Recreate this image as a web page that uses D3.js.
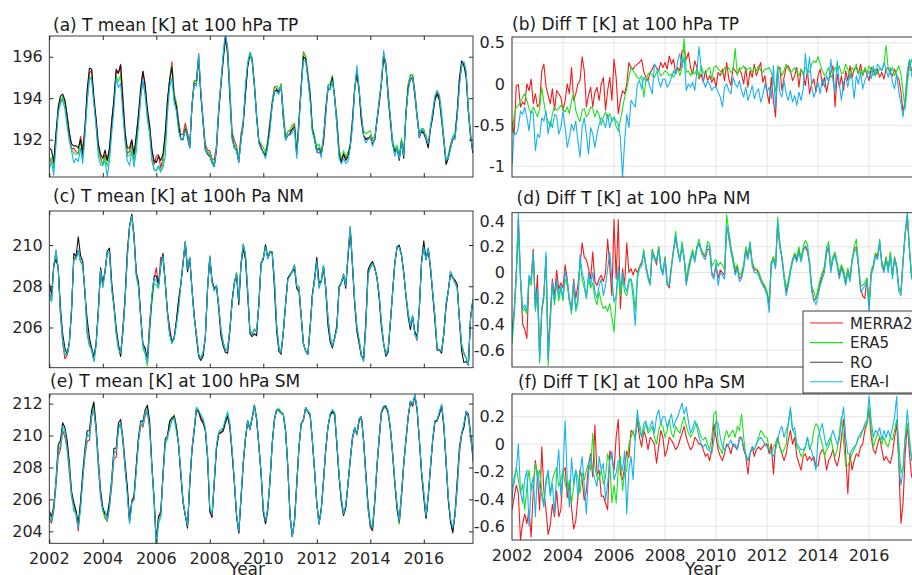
<!DOCTYPE html>
<html>
<head>
<meta charset="utf-8">
<script src="https://cdnjs.cloudflare.com/ajax/libs/d3/7.8.5/d3.min.js"></script>
<style>
  body { margin: 0; background: #fff; }
  svg { font-family: "DejaVu Sans", sans-serif; }
</style>
</head>
<body>
<svg id="fig" width="912" height="575"></svg>
<script>
// monthly series, Jan 2002 .. Dec 2017, one row per year
var seriesNames = ["MERRA2", "ERA5", "RO", "ERA-I"];
var xTickYears = [2002, 2004, 2006, 2008, 2010, 2012, 2014, 2016];

// RO mean temperature [K] at 100 hPa
var roTP = [
191.6,191.5,190.9,192.3,193.6,194.1,194.2,193.9,193.2,192.3,191.8,191.7,
191.7,191.6,192.0,191.3,192.6,194.4,195.45,195.4,194.1,193.0,191.8,191.3,
191.1,191.5,191.0,191.6,192.8,194.0,195.4,195.2,195.6,193.8,192.3,191.6,
191.6,192.0,191.3,192.2,193.2,194.5,195.3,194.6,193.5,192.7,191.5,191.0,
190.9,191.2,191.0,191.3,192.3,193.9,194.9,195.5,194.0,193.6,192.7,192.0,
192.0,192.5,192.2,191.6,193.6,194.7,194.7,195.9,194.1,192.8,191.5,191.3,
191.2,190.9,190.7,191.5,193.3,194.6,195.8,196.9,196.1,194.0,192.1,191.6,
191.5,190.9,192.0,192.7,194.2,195.5,196.1,195.8,194.6,193.1,191.9,191.6,
191.4,191.2,191.8,192.7,193.7,194.3,194.4,194.3,194.5,193.0,192.0,192.2,
192.3,192.5,192.6,191.3,192.8,194.5,196.0,195.9,195.0,194.1,192.5,192.0,
191.5,191.6,191.3,192.0,193.5,194.4,194.5,195.0,194.0,192.8,191.3,190.9,
191.3,191.0,191.2,191.7,192.8,194.4,195.2,194.3,193.0,192.2,192.0,192.1,
192.1,191.8,192.0,192.9,193.8,194.7,196.0,195.5,194.2,192.9,191.8,191.4,
191.6,191.0,191.9,191.1,193.2,194.5,194.9,195.0,194.1,193.1,192.1,192.4,
192.3,192.0,191.6,192.5,193.1,193.9,194.2,193.9,192.9,191.9,190.8,191.1,
191.6,192.0,192.1,193.3,195.0,195.8,195.6,195.0,193.3,192.1,191.4,191.3];

var roNM = [
208.15,207.6,209.0,209.3,208.9,207.0,205.7,205.0,204.7,205.3,206.8,209.6,
209.45,210.4,209.5,209.2,207.6,206.4,205.5,205.0,204.6,205.2,206.9,208.9,
208.15,208.7,209.7,209.85,208.2,207.1,206.0,205.2,204.6,205.8,207.4,209.6,
210.9,211.5,210.4,208.7,208.2,206.6,205.2,205.0,204.4,206.0,207.4,208.5,
208.5,208.1,209.0,209.6,208.2,206.8,205.8,205.3,205.5,206.3,207.3,208.1,
209.1,210.1,208.7,209.35,207.9,206.6,205.5,204.6,204.4,204.6,205.5,207.9,
209.35,208.3,207.9,208.0,206.9,205.6,205.1,204.8,204.75,205.8,207.3,208.15,
208.55,207.1,209.0,209.85,209.3,207.6,205.7,205.55,205.7,205.6,207.1,209.1,
209.3,210.0,209.35,209.65,209.65,207.9,205.8,204.85,204.7,205.8,207.1,208.4,
208.55,208.7,208.85,207.9,207.75,206.5,205.2,204.85,204.7,206.0,207.6,208.4,
209.4,208.2,208.2,208.9,207.9,206.1,205.3,205.0,205.5,206.1,208.0,208.15,
208.5,207.9,209.4,210.7,209.0,207.1,205.8,205.2,204.6,204.5,206.3,208.8,
209.05,209.2,208.9,208.4,207.4,206.0,205.2,204.6,204.8,206.2,207.7,209.1,
209.9,210.0,209.5,208.7,207.5,206.5,205.9,206.5,205.8,205.55,207.0,209.2,
210.2,209.3,209.8,208.8,207.6,206.3,204.9,204.9,204.75,205.7,207.0,207.8,
208.6,208.4,208.3,208.1,206.3,204.85,204.3,204.35,204.2,206.5,207.3,207.5];

var roSM = [
205.3,204.9,205.6,207.2,209.4,209.7,210.8,210.5,209.7,208.3,206.5,205.8,
205.3,204.5,205.8,207.7,209.2,210.3,210.3,211.6,212.1,210.6,208.5,206.6,
205.5,205.1,205.0,205.9,207.3,209.2,209.2,210.8,211.0,209.9,208.3,206.8,
204.7,205.9,206.2,208.0,209.9,210.9,210.9,211.6,211.9,210.9,208.2,206.1,
203.4,204.9,205.1,207.6,209.8,210.0,210.9,211.1,211.2,210.5,209.4,207.5,
205.8,205.0,204.2,206.9,209.1,210.3,211.6,211.5,211.1,210.8,210.3,208.6,
205.3,204.9,207.0,209.2,210.1,210.2,210.3,210.8,211.2,210.5,208.9,207.1,
205.0,203.9,206.0,208.2,209.8,210.9,210.4,211.1,211.9,211.1,209.4,207.6,
205.2,204.5,205.4,207.2,209.5,211.0,211.6,211.6,211.4,211.3,210.3,208.0,
204.9,203.7,204.7,207.0,209.3,210.75,211.0,211.75,211.5,211.3,209.7,207.8,
205.75,204.5,205.4,207.2,209.1,210.5,211.3,211.5,211.4,209.5,207.4,205.85,
205.0,205.5,207.0,208.5,209.9,210.5,210.1,211.0,211.2,209.7,207.6,205.6,
204.4,204.1,205.85,208.1,209.9,211.5,211.8,211.8,211.5,210.5,208.9,207.0,
205.4,204.6,206.4,208.25,209.8,211.2,212.15,211.9,212.5,211.6,209.7,207.6,
206.1,204.8,206.2,208.0,209.7,210.85,210.95,211.4,211.9,210.65,208.35,206.0,
204.6,203.9,205.1,207.2,209.3,210.1,210.5,211.5,211.35,210.1,208.8,207.3];

// reanalysis minus RO [K]
var diffTP_merra2 = [
-0.45,-0.62,-0.02,-0.01,-0.28,-0.22,-0.25,0.00,-0.08,0.06,-0.24,-0.12,
-0.28,-0.24,0.16,0.24,-0.03,-0.14,-0.24,-0.06,-0.32,-0.08,-0.12,-0.16,
-0.32,-0.20,0.00,-0.12,0.20,-0.20,-0.12,0.00,0.04,0.33,0.16,-0.28,
-0.14,-0.04,-0.28,-0.10,-0.04,-0.20,0.00,0.08,-0.32,-0.08,0.08,-0.20,
0.30,0.08,-0.36,-0.20,-0.08,-0.12,0.00,0.26,0.20,0.18,0.22,0.24,
0.26,0.30,0.15,0.08,0.04,0.14,0.18,0.24,0.20,0.16,0.26,0.20,
0.26,0.18,0.34,0.24,0.30,0.12,0.20,0.16,0.40,0.42,0.30,0.38,
0.20,0.12,0.28,0.20,0.06,0.12,0.02,0.16,0.04,0.10,0.02,0.08,
-0.04,0.14,0.10,0.18,0.04,0.26,0.06,-0.02,0.20,0.16,0.12,0.18,
0.12,0.00,0.20,-0.04,0.16,0.08,0.24,0.10,0.18,0.26,0.02,0.10,
-0.10,-0.24,0.08,-0.20,-0.40,0.18,0.20,-0.08,0.08,0.20,0.22,0.16,
0.04,0.10,0.20,-0.04,0.18,0.12,-0.02,0.16,-0.12,0.00,0.06,-0.10,
0.10,0.18,-0.02,0.08,-0.10,0.04,0.14,0.22,-0.28,0.12,-0.04,0.10,
-0.08,0.16,0.04,0.22,0.08,0.18,0.20,0.12,0.24,0.10,0.18,0.12,
0.04,0.20,0.16,0.10,0.18,0.08,0.14,0.06,0.18,0.20,0.12,0.10,
0.18,0.10,0.06,-0.10,-0.34,-0.20,0.10,0.28,0.16,0.20,-0.04,0.04];

var diffTP_era5 = [
-0.60,-0.38,-0.28,-0.26,-0.22,-0.16,-0.12,-0.20,-0.30,-0.36,-0.28,-0.34,
-0.40,-0.30,-0.04,-0.22,-0.38,-0.46,-0.52,-0.36,-0.28,-0.32,-0.30,-0.26,
-0.30,-0.34,-0.28,-0.36,-0.20,-0.12,-0.32,-0.40,-0.46,-0.32,-0.30,-0.40,
-0.36,-0.28,-0.30,-0.40,-0.32,-0.38,-0.50,-0.40,-0.34,-0.42,-0.36,-0.46,
-0.40,-0.52,-0.57,-0.44,-0.30,-0.16,-0.06,0.08,0.20,0.16,0.12,0.08,
0.06,0.10,-0.16,0.04,0.12,0.14,0.10,0.08,0.14,0.16,0.10,0.12,
0.16,0.14,0.10,0.12,0.08,0.14,0.18,0.10,0.20,0.55,0.14,0.16,
0.10,0.16,0.12,0.18,0.08,0.22,0.14,0.12,0.18,0.20,0.06,0.20,
0.22,0.18,0.16,0.12,0.20,0.18,0.20,0.14,0.16,0.43,0.10,0.20,
0.18,0.22,0.16,0.18,0.20,0.14,0.20,0.16,0.22,0.16,0.14,0.18,
0.18,0.20,0.14,0.04,-0.10,0.22,0.20,0.10,0.16,0.24,0.18,0.14,
0.16,0.20,0.14,0.10,0.18,0.12,0.20,0.16,0.14,0.24,0.28,0.26,
0.33,0.24,0.16,0.10,0.14,0.20,0.08,0.12,0.20,0.16,0.22,0.12,
0.14,0.24,0.18,0.06,0.20,0.16,0.24,0.12,0.18,0.10,0.20,0.14,
0.22,0.16,0.10,0.18,0.12,0.20,0.16,0.24,0.47,0.18,0.14,0.20,
0.10,0.16,0.22,0.12,-0.10,-0.30,0.00,0.20,0.30,0.18,0.10,0.14];

var diffTP_erai = [
-0.98,-0.59,-0.61,-0.53,-0.33,-0.37,-0.28,-0.41,-0.57,-0.33,-0.35,-0.81,
-0.61,-0.65,-0.41,-0.45,-0.33,-0.61,-0.45,-0.53,-0.37,-0.39,-0.61,-0.53,
-0.33,-0.53,-0.77,-0.65,-0.49,-0.57,-0.45,-0.69,-0.89,-0.53,-0.41,-0.61,
-0.85,-0.53,-0.61,-0.77,-0.61,-0.49,-0.41,-0.45,-0.53,-0.37,-0.53,-0.42,
-0.41,-0.45,-0.49,-0.65,-1.14,-0.69,-0.37,-0.53,-0.20,-0.24,-0.28,0.00,
0.04,-0.06,0.08,0.04,0.04,-0.04,-0.12,0.24,0.20,0.04,-0.04,0.06,
0.06,-0.04,0.00,0.08,0.16,0.12,0.28,0.37,0.20,0.33,-0.08,0.00,
-0.04,0.02,-0.08,0.16,0.45,0.20,0.04,-0.04,0.04,0.00,-0.08,-0.04,
-0.04,-0.10,-0.16,-0.28,-0.04,0.00,-0.08,-0.12,0.08,0.00,-0.04,0.04,
-0.08,-0.16,-0.04,-0.20,-0.12,-0.02,-0.18,-0.10,-0.06,-0.22,-0.14,0.00,
-0.10,-0.04,-0.18,0.22,-0.30,0.20,-0.10,-0.16,0.04,-0.12,-0.20,-0.08,
-0.22,-0.14,-0.26,-0.10,-0.20,-0.06,0.37,0.10,0.33,-0.04,-0.16,-0.08,
0.02,-0.12,0.06,-0.04,0.10,0.02,0.30,0.04,-0.10,0.28,0.00,-0.20,
0.02,0.08,-0.04,0.12,0.06,-0.18,0.10,0.00,0.14,-0.06,0.04,0.10,
0.16,0.06,0.22,0.10,0.24,0.20,0.16,0.26,0.18,0.08,0.20,0.02,
-0.06,0.12,-0.10,-0.24,-0.40,-0.18,0.16,0.30,0.10,0.04,0.08,0.06];

var diffNM_merra2 = [
-0.45,-0.30,0.00,0.42,-0.05,-0.40,-0.44,-0.51,-0.05,-0.05,0.18,-0.26,
-0.02,-0.65,-0.30,-0.16,0.12,-0.62,-0.32,-0.05,-0.18,0.02,-0.13,-0.08,
-0.12,0.06,-0.05,-0.22,-0.28,-0.05,-0.20,-0.10,0.05,0.23,0.12,0.10,
0.03,-0.05,0.16,-0.07,-0.10,-0.05,-0.02,-0.07,0.00,0.26,0.05,-0.18,
0.41,-0.05,0.41,-0.28,0.03,-0.10,0.23,0.00,0.03,-0.02,0.03,0.00,
0.05,0.08,0.14,0.06,-0.03,-0.08,0.18,0.12,0.06,0.20,0.05,0.00,
0.12,-0.08,-0.12,0.05,0.18,0.26,0.18,0.10,0.20,0.12,-0.08,0.02,
0.10,0.14,0.10,0.20,0.22,0.18,0.14,0.12,0.18,0.18,0.00,-0.03,
0.05,-0.04,0.02,0.00,-0.02,0.35,0.30,0.18,0.10,0.00,0.05,-0.05,
-0.03,0.05,0.18,0.12,0.20,0.08,0.02,0.02,0.00,-0.05,-0.08,-0.12,
-0.15,-0.25,0.08,0.12,0.05,0.38,0.20,0.12,-0.02,-0.15,-0.08,0.02,
0.10,0.15,0.10,0.18,0.10,0.18,0.20,0.16,0.08,-0.12,-0.22,-0.20,
-0.15,-0.08,-0.02,0.03,0.15,0.20,0.02,0.12,0.14,0.06,-0.03,0.05,
0.00,-0.08,0.03,-0.05,0.10,0.18,0.20,0.06,-0.12,-0.18,-0.20,-0.05,
-0.25,0.00,0.05,0.15,0.12,0.22,0.08,0.02,0.12,0.03,0.15,-0.02,
0.12,0.05,-0.12,-0.15,0.10,0.30,0.42,0.18,-0.03,-0.03,0.02,0.06];

var diffNM_era5 = [
-0.55,-0.35,-0.05,0.30,-0.05,-0.30,-0.28,-0.32,-0.05,-0.10,0.14,-0.30,
-0.15,-0.70,-0.30,-0.20,0.12,-0.72,-0.38,-0.10,-0.25,-0.08,-0.22,-0.12,
-0.22,-0.05,-0.10,-0.22,-0.32,-0.10,-0.30,-0.24,0.10,-0.05,-0.12,-0.20,
-0.05,-0.12,-0.08,-0.20,-0.25,-0.15,-0.23,-0.28,-0.26,-0.30,-0.24,-0.35,
-0.46,-0.20,0.00,-0.18,-0.05,-0.15,-0.18,-0.08,-0.05,-0.12,-0.30,-0.02,
0.05,0.06,0.18,0.05,-0.03,-0.08,0.18,0.12,0.10,0.20,0.05,0.00,
0.12,-0.08,-0.08,0.05,0.18,0.32,0.18,0.10,0.24,0.12,-0.05,0.05,
0.12,0.18,0.10,0.20,0.26,0.18,0.15,0.14,0.24,0.22,0.05,0.08,
0.10,0.05,0.08,0.06,0.02,0.45,0.32,0.20,0.12,0.03,0.06,-0.02,
0.00,0.06,0.20,0.14,0.24,0.08,0.04,0.03,0.01,-0.04,-0.08,-0.10,
-0.15,-0.22,0.08,0.12,0.06,0.43,0.24,0.12,-0.02,-0.12,-0.06,0.03,
0.10,0.15,0.12,0.20,0.10,0.20,0.25,0.22,0.08,-0.10,-0.15,-0.20,
-0.12,-0.05,0.00,0.05,0.20,0.24,0.05,0.12,0.16,0.08,0.00,0.06,
0.02,-0.06,0.03,-0.04,0.10,0.20,0.26,0.08,-0.10,-0.10,-0.08,-0.04,
-0.25,0.02,0.06,0.15,0.14,0.26,0.08,0.04,0.12,0.02,0.16,-0.02,
0.12,0.05,-0.12,-0.15,0.10,0.32,0.47,0.20,-0.02,-0.02,0.03,0.06];

var diffNM_erai = [
-0.51,-0.31,-0.02,0.46,-0.03,-0.28,-0.25,-0.30,-0.02,-0.07,0.16,-0.28,
-0.12,-0.67,-0.28,-0.18,0.16,-0.67,-0.36,-0.07,-0.23,-0.05,-0.18,-0.10,
-0.20,0.01,-0.07,-0.20,-0.30,-0.07,-0.28,-0.20,0.14,0.00,-0.07,-0.20,
0.00,-0.10,0.00,-0.15,-0.20,-0.10,-0.05,-0.18,-0.10,0.03,0.16,-0.05,
-0.23,-0.18,0.05,-0.13,0.00,-0.10,-0.15,-0.05,-0.05,-0.20,-0.41,-0.05,
0.03,0.05,0.16,0.03,-0.05,-0.10,0.16,0.10,0.08,0.18,0.03,-0.02,
0.10,-0.10,-0.10,0.03,0.16,0.29,0.16,0.08,0.21,0.10,-0.10,0.00,
0.08,0.16,0.08,0.18,0.23,0.16,0.12,0.10,0.21,0.20,-0.02,-0.05,
0.08,-0.10,0.00,-0.02,-0.05,0.37,0.26,0.16,0.08,-0.02,0.03,-0.07,
-0.05,0.03,0.16,0.10,0.23,0.05,0.00,0.00,-0.02,-0.07,-0.10,-0.13,
-0.18,-0.31,0.05,0.10,0.03,0.40,0.21,0.10,-0.05,-0.18,-0.10,0.00,
0.08,0.13,0.08,0.16,0.08,0.16,0.21,0.18,0.05,-0.15,-0.20,-0.25,
-0.18,-0.10,-0.05,0.00,0.16,0.21,0.00,0.10,0.13,0.05,-0.05,0.03,
-0.02,-0.10,0.00,-0.07,0.08,0.16,0.18,0.05,-0.15,-0.13,-0.10,-0.07,
-0.31,-0.02,0.03,0.13,0.10,0.24,0.05,0.00,0.10,0.00,0.13,-0.05,
0.10,0.03,-0.15,-0.18,0.08,0.30,0.45,0.16,-0.05,-0.05,0.00,0.05];

var diffSM_merra2 = [
-0.48,-0.39,-0.30,-0.36,-0.70,-0.58,-0.51,-0.58,-0.48,-0.68,-0.34,-0.12,
-0.24,-0.48,-0.02,-0.34,-0.48,-0.66,-0.59,-0.44,-0.53,-0.34,-0.53,-0.48,
-0.20,-0.17,-0.39,-0.29,-0.46,-0.62,-0.56,-0.39,-0.19,-0.26,-0.41,-0.34,
-0.15,-0.07,-0.24,0.14,-0.22,-0.19,-0.38,-0.38,-0.43,-0.48,-0.05,-0.10,
-0.19,0.05,0.18,-0.22,-0.26,-0.17,-0.05,-0.10,0.10,0.08,0.05,0.17,
0.05,-0.02,0.10,0.05,-0.04,0.05,0.03,0.00,-0.14,-0.02,0.10,0.05,
-0.09,-0.04,0.05,0.03,0.00,-0.04,-0.02,0.03,0.08,0.13,0.05,0.00,
-0.04,-0.02,0.05,0.03,0.00,0.00,-0.04,-0.09,-0.07,-0.12,-0.04,0.15,
0.05,-0.04,-0.09,-0.12,-0.07,0.00,-0.02,-0.07,0.00,-0.02,-0.04,0.05,
0.05,-0.04,-0.09,-0.22,-0.07,-0.02,-0.09,-0.04,-0.02,-0.04,-0.02,0.00,
0.00,-0.07,0.00,-0.22,0.00,0.05,-0.02,-0.07,-0.12,-0.07,0.03,0.10,
0.00,0.05,-0.09,-0.14,-0.19,-0.09,-0.07,-0.12,-0.09,-0.12,-0.09,-0.16,
-0.16,-0.07,-0.04,-0.07,-0.19,-0.12,-0.09,-0.04,-0.12,-0.16,-0.09,0.05,
0.18,-0.07,-0.36,-0.07,-0.19,-0.12,-0.07,-0.09,-0.02,0.00,0.10,0.15,
0.25,0.05,-0.04,-0.07,0.00,0.05,-0.04,-0.12,-0.09,-0.12,-0.14,-0.07,
0.05,0.15,-0.14,-0.58,-0.43,-0.07,0.15,-0.07,-0.24,-0.20,-0.15,-0.10];

var diffSM_era5 = [
-0.31,-0.29,-0.17,-0.26,-0.36,-0.29,-0.48,-0.31,-0.19,-0.34,-0.29,-0.14,
-0.24,-0.19,-0.34,-0.43,-0.29,-0.21,-0.36,-0.26,-0.21,-0.17,-0.31,-0.26,
-0.19,-0.29,-0.34,-0.26,-0.43,-0.31,-0.19,-0.24,-0.36,-0.21,-0.26,-0.19,
-0.14,-0.19,0.08,-0.17,-0.24,-0.26,-0.19,-0.29,-0.24,-0.07,-0.14,-0.43,
-0.30,-0.43,-0.19,-0.09,-0.34,-0.21,-0.19,0.00,0.05,0.10,0.03,0.20,
0.15,0.05,0.10,0.15,0.08,0.10,0.13,0.05,0.00,0.10,0.15,0.13,
0.05,0.10,0.18,0.08,0.05,0.13,0.10,0.08,0.15,0.20,0.13,0.08,
0.05,0.08,0.13,0.15,0.10,0.05,0.03,0.05,0.00,-0.04,0.05,0.22,
0.24,0.00,-0.04,-0.07,0.05,0.10,0.05,0.08,0.10,0.05,0.13,0.10,
0.22,0.05,-0.09,-0.12,-0.07,-0.02,-0.04,0.00,0.05,0.10,0.08,0.05,
0.05,-0.04,-0.07,-0.02,0.00,0.05,-0.02,-0.07,-0.04,0.00,0.15,0.25,
0.10,0.08,-0.02,-0.04,-0.09,-0.07,-0.02,0.05,-0.04,0.00,0.10,0.15,
0.13,0.05,0.00,-0.09,-0.04,-0.02,0.05,-0.04,-0.09,-0.04,0.08,0.20,
0.02,-0.16,-0.16,-0.12,-0.07,-0.04,0.00,0.05,0.05,0.10,0.13,0.15,
0.27,0.10,-0.02,0.03,0.08,0.05,0.00,0.05,0.00,-0.02,0.05,0.03,
0.10,0.18,0.00,-0.21,-0.17,0.05,0.15,0.00,-0.09,-0.05,-0.02,0.00];

var diffSM_erai = [
-0.41,-0.24,-0.19,0.00,-0.35,-0.43,-0.26,-0.19,-0.60,-0.31,-0.24,-0.53,
-0.19,-0.31,-0.38,-0.46,-0.26,-0.19,-0.38,-0.29,-0.51,-0.21,-0.04,-0.38,
-0.20,0.17,-0.26,-0.46,-0.10,-0.29,-0.19,-0.38,-0.21,-0.09,-0.31,-0.51,
-0.22,-0.09,-0.19,-0.26,-0.31,-0.09,-0.19,-0.14,-0.41,-0.29,-0.12,-0.05,
-0.26,-0.21,-0.12,-0.14,-0.19,-0.05,-0.51,-0.19,-0.09,-0.26,0.05,0.25,
0.10,0.05,0.15,0.17,0.10,0.13,0.17,0.08,0.20,0.25,0.15,0.20,
0.20,0.12,0.17,0.22,0.12,0.17,0.20,0.25,0.30,0.22,0.27,0.17,
0.08,0.12,0.17,0.12,0.05,0.00,-0.02,0.00,-0.04,-0.05,-0.07,0.03,
0.17,0.15,0.05,-0.02,-0.04,-0.02,0.00,0.03,-0.02,0.00,-0.04,0.03,
0.05,-0.02,-0.07,-0.12,-0.07,-0.02,-0.04,0.00,0.03,0.05,0.03,0.00,
-0.02,-0.04,-0.07,-0.09,-0.04,0.03,0.10,0.13,0.05,0.10,0.15,0.27,
0.10,0.12,0.00,-0.02,-0.04,-0.04,-0.02,0.05,-0.02,-0.05,-0.12,-0.19,
0.05,0.10,0.15,0.05,-0.02,0.03,0.05,0.10,0.05,0.00,0.03,0.17,
0.27,0.05,-0.07,-0.07,-0.04,-0.02,0.00,0.05,0.08,0.10,0.15,0.17,
0.35,0.17,0.05,0.10,0.08,0.12,0.03,0.10,0.05,0.10,0.05,0.12,
0.20,0.35,-0.14,-0.30,-0.19,0.05,0.25,0.05,-0.12,-0.10,-0.05,0.00];

var colors = { "MERRA2": "#ee1c1c", "ERA5": "#1ee11e", "RO": "#111111", "ERA-I": "#18b2ef" };
var axisColor = "#262626";

var months = d3.range(roTP.length).map(function(i) { return 2002 + i / 12; });

// reanalysis series are RO plus their difference
function addTo(base, diff) {
  return base.map(function(v, i) { return v + diff[i]; });
}

var svg = d3.select("#fig");
var defs = svg.append("defs");

function drawPanel(p) {
  var x = d3.scaleLinear().domain([2002, 2017.84]).range([p.left, p.right]);
  var y = d3.scaleLinear().domain(p.ydom).range([p.bottom, p.top]);
  var g = svg.append("g");

  defs.append("clipPath").attr("id", "clip-" + p.name)
    .append("rect")
    .attr("x", p.left).attr("y", p.top)
    .attr("width", p.right - p.left).attr("height", p.bottom - p.top);

  if (p.grid) {
    g.append("g").selectAll("line").data(xTickYears).enter().append("line")
      .attr("x1", function(d) { return x(d); }).attr("x2", function(d) { return x(d); })
      .attr("y1", p.top).attr("y2", p.bottom)
      .attr("stroke", "#dedede").attr("stroke-width", 0.8);
    g.append("g").selectAll("line").data(p.yticks).enter().append("line")
      .attr("x1", p.left).attr("x2", p.right)
      .attr("y1", function(d) { return y(d); }).attr("y2", function(d) { return y(d); })
      .attr("stroke", "#dedede").attr("stroke-width", 0.8);
  }

  var line = d3.line()
    .x(function(d, i) { return x(months[i]); })
    .y(function(d) { return y(d); });

  var lines = g.append("g").attr("clip-path", "url(#clip-" + p.name + ")");
  p.series.forEach(function(s) {
    lines.append("path")
      .datum(s.values)
      .attr("d", line)
      .attr("fill", "none")
      .attr("stroke", colors[s.name])
      .attr("stroke-width", 1.1)
      .attr("stroke-linejoin", "round");
  });

  // y axis (left) with labels
  var yAxis = d3.axisLeft(y).tickValues(p.yticks).tickFormat(function(d) { return String(d); })
    .tickSize(p.grid ? 0 : -4).tickPadding(p.grid ? 7 : 6.5);
  var ya = g.append("g").attr("transform", "translate(" + p.left + ",0)").call(yAxis);
  ya.select(".domain").remove();
  ya.selectAll("line").attr("stroke", axisColor);
  ya.selectAll("text").attr("font-size", 16).attr("fill", axisColor)
    .attr("font-family", "DejaVu Sans, sans-serif");

  if (!p.grid) {
    // inward ticks on the other three sides
    var yr = g.append("g").attr("transform", "translate(" + p.right + ",0)")
      .call(d3.axisRight(y).tickValues(p.yticks).tickSize(-4).tickFormat(""));
    var xb = g.append("g").attr("transform", "translate(0," + p.bottom + ")")
      .call(d3.axisBottom(x).tickValues(xTickYears).tickSize(-4).tickFormat(""));
    var xt = g.append("g").attr("transform", "translate(0," + p.top + ")")
      .call(d3.axisTop(x).tickValues(xTickYears).tickSize(-4).tickFormat(""));
    [yr, xb, xt].forEach(function(a) {
      a.select(".domain").remove();
      a.selectAll("line").attr("stroke", axisColor);
    });
  }

  if (p.xlabels) {
    g.append("g").selectAll("text").data(xTickYears).enter().append("text")
      .attr("x", function(d) { return x(d); })
      .attr("y", p.bottom + 21)
      .attr("text-anchor", "middle")
      .attr("font-size", 16).attr("fill", axisColor)
      .text(function(d) { return d; });
    g.append("text")
      .attr("x", p.yearX)
      .attr("y", 575)
      .attr("text-anchor", "middle")
      .attr("font-size", 17).attr("fill", axisColor)
      .text("Year");
  }

  g.append("rect")
    .attr("x", p.left).attr("y", p.top)
    .attr("width", p.right - p.left).attr("height", p.bottom - p.top)
    .attr("fill", "none").attr("stroke", axisColor).attr("stroke-width", 0.9);

  svg.append("text")
    .attr("x", p.tx).attr("y", p.ty)
    .attr("font-size", 17).attr("fill", "#1a1a1a")
    .text(p.title);
}

var L = { left: 49.3, right: 473 };
var R = { left: 512, right: 916 };

drawPanel({ name: "a", left: L.left, right: L.right, top: 36, bottom: 177,
  ydom: [190.2, 197.0], yticks: [192, 194, 196],
  title: "(a) T mean [K] at 100 hPa TP", tx: 53, ty: 30.5,
  series: [
    { name: "MERRA2", values: addTo(roTP, diffTP_merra2) },
    { name: "ERA5", values: addTo(roTP, diffTP_era5) },
    { name: "RO", values: roTP },
    { name: "ERA-I", values: addTo(roTP, diffTP_erai) }] });

drawPanel({ name: "b", left: R.left, right: R.right, top: 37, bottom: 177, grid: true,
  ydom: [-1.13, 0.57], yticks: [-1, -0.5, 0, 0.5],
  title: "(b) Diff T [K] at 100 hPa TP", tx: 512, ty: 30,
  series: [
    { name: "MERRA2", values: diffTP_merra2 },
    { name: "ERA5", values: diffTP_era5 },
    { name: "ERA-I", values: diffTP_erai }] });

drawPanel({ name: "c", left: L.left, right: L.right, top: 211, bottom: 367.7,
  ydom: [204.05, 211.65], yticks: [206, 208, 210],
  title: "(c) T mean [K] at 100h Pa NM", tx: 53, ty: 201.5,
  series: [
    { name: "MERRA2", values: addTo(roNM, diffNM_merra2) },
    { name: "ERA5", values: addTo(roNM, diffNM_era5) },
    { name: "RO", values: roNM },
    { name: "ERA-I", values: addTo(roNM, diffNM_erai) }] });

drawPanel({ name: "d", left: R.left, right: R.right, top: 212.7, bottom: 367, grid: true,
  ydom: [-0.732, 0.464], yticks: [-0.6, -0.4, -0.2, 0, 0.2, 0.4],
  title: "(d) Diff T [K] at 100 hPa NM", tx: 516.5, ty: 204,
  series: [
    { name: "MERRA2", values: diffNM_merra2 },
    { name: "ERA5", values: diffNM_era5 },
    { name: "ERA-I", values: diffNM_erai }] });

drawPanel({ name: "e", left: L.left, right: L.right, top: 394, bottom: 543.3, xlabels: true, yearX: 247,
  ydom: [203.25, 212.6], yticks: [204, 206, 208, 210, 212],
  title: "(e) T mean [K] at 100 hPa SM", tx: 50, ty: 387,
  series: [
    { name: "MERRA2", values: addTo(roSM, diffSM_merra2) },
    { name: "ERA5", values: addTo(roSM, diffSM_era5) },
    { name: "RO", values: roSM },
    { name: "ERA-I", values: addTo(roSM, diffSM_erai) }] });

drawPanel({ name: "f", left: R.left, right: R.right, top: 394, bottom: 540, grid: true, xlabels: true, yearX: 703,
  ydom: [-0.70, 0.366], yticks: [-0.6, -0.4, -0.2, 0, 0.2],
  title: "(f) Diff T [K] at 100 hPa SM", tx: 518, ty: 388,
  series: [
    { name: "MERRA2", values: diffSM_merra2 },
    { name: "ERA5", values: diffSM_era5 },
    { name: "ERA-I", values: diffSM_erai }] });

// legend
var legend = svg.append("g").attr("transform", "translate(803,311)");
legend.append("rect")
  .attr("width", 130).attr("height", 82)
  .attr("fill", "#fff").attr("stroke", axisColor).attr("stroke-width", 0.9);
seriesNames.forEach(function(name, i) {
  var yy = 12 + i * 19.6;
  legend.append("line")
    .attr("x1", 7).attr("x2", 40).attr("y1", yy).attr("y2", yy)
    .attr("stroke", name === "RO" ? "#444" : colors[name]).attr("stroke-width", 1.1);
  legend.append("text")
    .attr("x", 47).attr("y", yy + 5.5)
    .attr("font-size", 15).attr("fill", axisColor)
    .text(name);
});
</script>
</body>
</html>
